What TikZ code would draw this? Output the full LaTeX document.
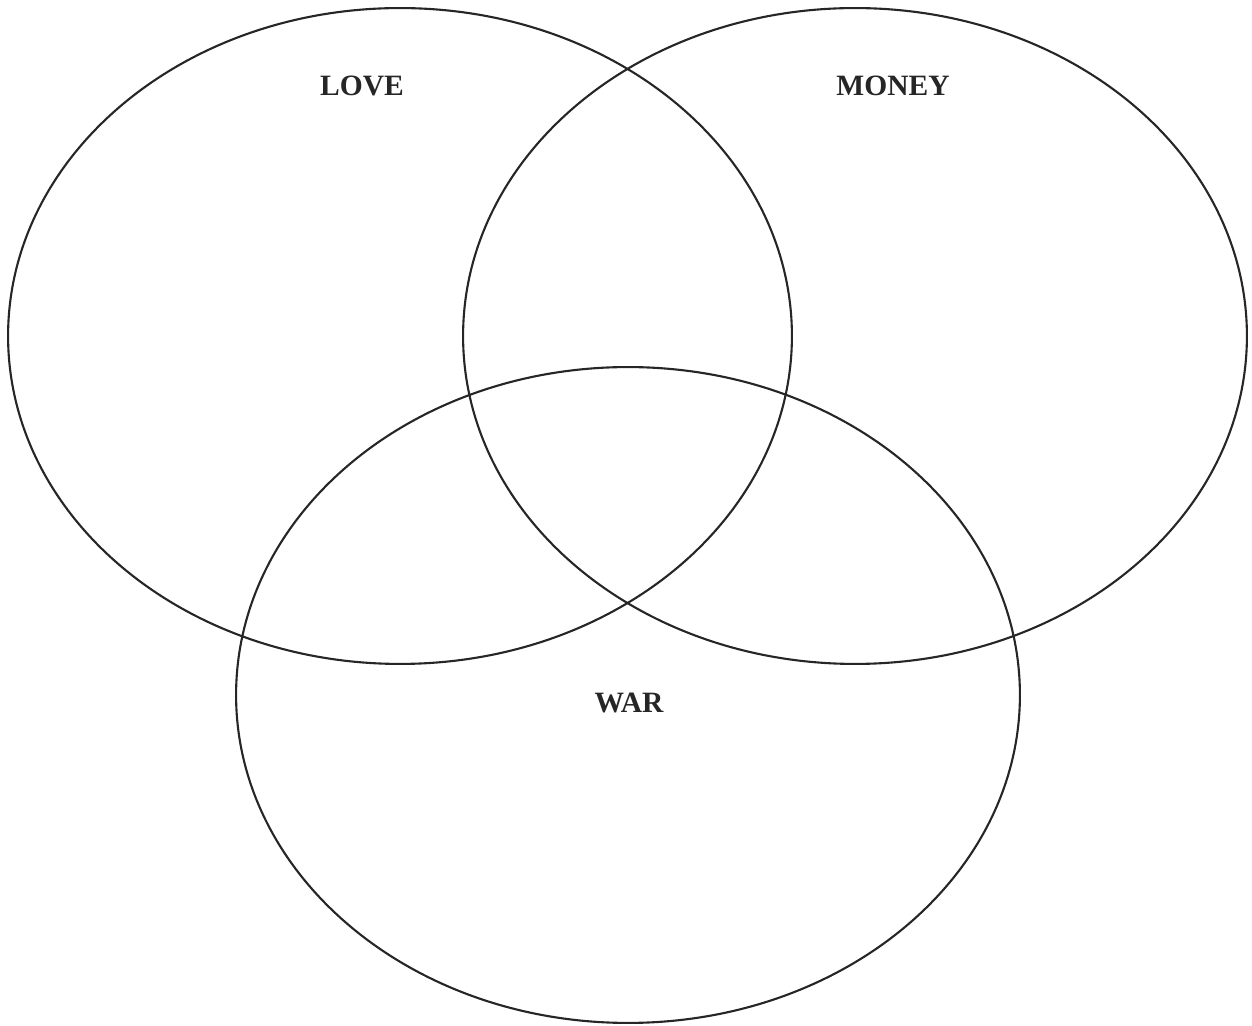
\documentclass[tikz,border=0pt]{standalone}
\usepackage{fontspec}
\setmainfont{Liberation Serif}
\usetikzlibrary{positioning}

\begin{document}
\begin{tikzpicture}[x=0.02cm, y=-0.02cm, set/.style={draw=black!85, line width=1.2pt}, every node/.style={font=\fontsize{16.8}{20}\selectfont\bfseries, text=black!85}]
\useasboundingbox (0,0) rectangle (1252,1026);
\draw[set] (400,336) ellipse [x radius=7.84cm, y radius=6.56cm];
\draw[set] (855,336) ellipse [x radius=7.84cm, y radius=6.56cm];
\draw[set] (628,695) ellipse [x radius=7.84cm, y radius=6.56cm];
\node (love) at (362,86) {LOVE};
\node (money) at (893,86) {MONEY};
\node (war) at (629,703) {WAR};
\end{tikzpicture}
\end{document}
